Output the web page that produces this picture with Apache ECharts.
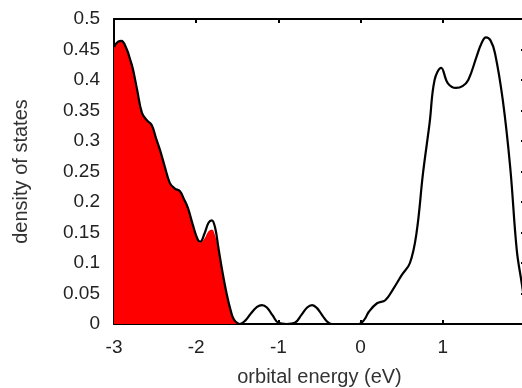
<!DOCTYPE html>
<html>
<head>
<meta charset="utf-8">
<script src="https://cdn.jsdelivr.net/npm/echarts@6/dist/echarts.min.js"></script>
<style>
    html, body { margin: 0; padding: 0; background: #fff; }
    #chart { width: 522px; height: 388px; }
</style>
</head>
<body>
<div id="chart"></div>
<script>
// total density of states (black curve)
var energy = [-3.0, -2.95, -2.91, -2.85, -2.8, -2.77, -2.72, -2.66, -2.6, -2.54, -2.49, -2.44, -2.38, -2.32, -2.26, -2.2, -2.15, -2.1, -2.04, -1.98, -1.95, -1.9, -1.85, -1.81, -1.77, -1.73, -1.68, -1.63, -1.58, -1.54, -1.47,
    -1.4, -1.33, -1.26, -1.2, -1.14, -1.07, -1.0, -0.9, -0.8, -0.72, -0.65, -0.59, -0.53, -0.46, -0.4, -0.35, -0.2, -0.02,
    0.05, 0.1, 0.2, 0.3, 0.4, 0.5, 0.6, 0.68, 0.76, 0.84, 0.9, 0.98, 1.06, 1.16, 1.24, 1.31, 1.41, 1.47, 1.525, 1.58, 1.635, 1.73, 1.82, 1.9, 1.96, 2.0];
var totalDos = [0.454, 0.463, 0.464, 0.452, 0.432, 0.418, 0.385, 0.346, 0.334, 0.326, 0.305, 0.285, 0.257, 0.231, 0.222, 0.218, 0.205, 0.19, 0.162, 0.138, 0.135, 0.148, 0.166, 0.17, 0.158, 0.125, 0.085, 0.05, 0.022, 0.007, 0.0,
    0.006, 0.018, 0.028, 0.031, 0.027, 0.014, 0.002, 0.0, 0.002, 0.015, 0.027, 0.031, 0.026, 0.013, 0.003, 0.0, 0.0, 0.0,
    0.008, 0.02, 0.034, 0.039, 0.058, 0.08, 0.1, 0.149, 0.248, 0.33, 0.4, 0.42, 0.395, 0.387, 0.39, 0.4, 0.438, 0.46, 0.47, 0.465, 0.444, 0.367, 0.257, 0.121, 0.067, 0.03];

// occupied states (red area)
var occEnergy = [-3.0, -2.95, -2.91, -2.85, -2.8, -2.77, -2.72, -2.66, -2.6, -2.54, -2.49, -2.44, -2.38, -2.32, -2.26, -2.2, -2.15, -2.1, -2.04, -1.98, -1.95, -1.9, -1.85, -1.81, -1.77, -1.73, -1.68, -1.63, -1.58, -1.54, -1.47];
var occDos = [0.454, 0.463, 0.464, 0.452, 0.432, 0.418, 0.385, 0.346, 0.334, 0.326, 0.305, 0.285, 0.257, 0.231, 0.222, 0.218, 0.205, 0.19, 0.162, 0.138, 0.133, 0.14, 0.152, 0.155, 0.145, 0.12, 0.082, 0.048, 0.02, 0.006, 0.0];

function pairs(xs, ys) {
    var out = [];
    for (var i = 0; i < xs.length; i++) {
        out.push([xs[i], ys[i]]);
    }
    return out;
}

var myChart = echarts.init(document.getElementById('chart'));

var axisLine = { show: true, onZero: false, lineStyle: { color: '#000', width: 2 } };
var axisTick = { show: true, inside: true, length: 4, lineStyle: { color: '#000', width: 2 } };
var labelFont = { color: '#222', fontFamily: 'Liberation Sans, Arial, sans-serif', fontSize: 19 };

var option = {
    animation: false,
    backgroundColor: '#fff',
    // the right edge of the plot sits just outside the picture
    grid: { left: 114, right: -3, top: 19, bottom: 64, containLabel: false, outerBoundsMode: 'none' },
    xAxis: [{
        type: 'value',
        min: -3,
        max: 2,
        interval: 1,
        name: 'orbital energy (eV)',
        nameLocation: 'middle',
        nameGap: 43,
        nameTextStyle: { color: '#333', fontFamily: 'Liberation Sans, Arial, sans-serif', fontSize: 20 },
        axisLine: axisLine,
        axisTick: axisTick,
        axisLabel: Object.assign({ margin: 14, showMaxLabel: false }, labelFont),
        splitLine: { show: false }
    }, {
        type: 'value',
        position: 'top',
        min: -3,
        max: 2,
        interval: 1,
        axisLine: axisLine,
        axisTick: axisTick,
        axisLabel: { show: false },
        splitLine: { show: false }
    }],
    yAxis: [{
        type: 'value',
        min: 0,
        max: 0.5,
        interval: 0.05,
        name: 'density of states',
        nameLocation: 'middle',
        nameGap: 83,
        nameTextStyle: { color: '#333', fontFamily: 'Liberation Sans, Arial, sans-serif', fontSize: 20 },
        axisLine: axisLine,
        axisTick: axisTick,
        axisLabel: Object.assign({ margin: 14 }, labelFont),
        splitLine: { show: false }
    }, {
        type: 'value',
        position: 'right',
        min: 0,
        max: 0.5,
        interval: 0.05,
        axisLine: axisLine,
        axisTick: axisTick,
        axisLabel: { show: false },
        splitLine: { show: false }
    }],
    series: [{
        name: 'occupied',
        type: 'line',
        data: pairs(occEnergy, occDos),
        smooth: 0.4,
        symbol: 'none',
        lineStyle: { width: 0 },
        areaStyle: { color: '#ff0000', opacity: 1 },
        z: 2
    }, {
        name: 'total',
        type: 'line',
        data: pairs(energy, totalDos),
        smooth: 0.4,
        symbol: 'none',
        lineStyle: { color: '#000', width: 2.2 },
        z: 3
    }]
};

myChart.setOption(option);
</script>
</body>
</html>
